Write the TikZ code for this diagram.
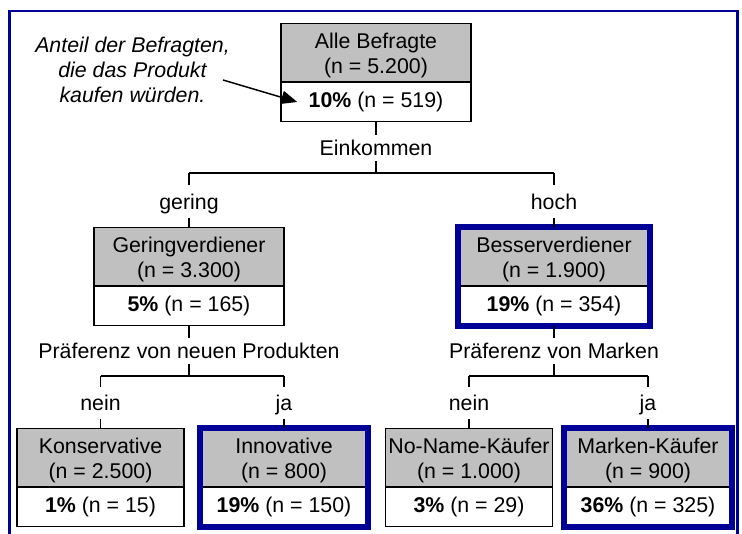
\documentclass[tikz,border=0pt]{standalone}
\usepackage{fontspec}
\setmainfont{Liberation Sans}
\usetikzlibrary{arrows.meta,calc}
\definecolor{navyblue}{RGB}{0,0,153}
\definecolor{boxgray}{RGB}{192,192,192}
\newcommand{\boxlines}[2]{\begin{tabular}{@{}c@{}}\rule{0pt}{18.7pt}#1\\#2\end{tabular}}
\begin{document}
\begin{tikzpicture}[x=0.75pt,y=-0.75pt,
  every node/.style={font=\fontsize{16}{18}\selectfont},
  gtop/.style={draw=black, line width=1.1pt, fill=boxgray, minimum width=#1, minimum height=43.1pt, inner sep=0pt, anchor=south, font=\fontsize{16}{18.9}\selectfont},
  gtop/.default=142.5pt,
  gbot/.style={draw=black, line width=1.1pt, fill=white, minimum width=#1, minimum height=28.9pt, inner sep=0pt, anchor=north, align=center},
  gbot/.default=142.5pt,
  lab/.style={inner sep=0pt, minimum height=#1, text height=11.5pt, text depth=0pt},
  conn/.style={line width=1.1pt},
  hl/.style={draw=navyblue, line width=4.2pt},
  frameline/.style={draw=navyblue, line width=1.7pt},
]
\useasboundingbox (0,0) rectangle (742,534);
\fill[white] (0,0) rectangle (742,534);
\draw[frameline] (9.5,540) -- (9.5,11) -- (737.5,11) -- (737.5,540);

% root
\node[gtop] (rootT) at (376,82) {\boxlines{Alle Befragte}{(n = 5.200)}};
\node[gbot] (rootB) at (376,82) {\textbf{10\%} (n = 519)};

% annotation
\node[font=\fontsize{16}{18.75}\selectfont\itshape, align=center, inner sep=0pt] (anno) at (132.5,69.5) {Anteil der Befragten,\\die das Produkt\\kaufen würden.};
\coordinate (arrT) at ($(anno.east)+(-7,10.5)$);
\coordinate (arrH) at ($(rootB.west)+(17,0)$);
\draw[conn, -{Triangle[length=12pt,width=10pt]}] (arrT) -- (arrH);

% level 1 split
\node[lab=19.5pt] (eink) at (376,148) {Einkommen};
\coordinate (b1M) at (376,173);
\coordinate (b1L) at (189,173);
\coordinate (b1R) at (554,173);
\draw[conn] (rootB.south) -- (eink.north);
\draw[conn] (eink.south) -- (b1M);
\draw[conn] (b1L) -- (b1R);
\node[lab=24.75pt] (gering) at (189,201.5) {gering};
\node[lab=24.75pt] (hoch) at (554,201.5) {hoch};
\draw[conn] (b1L) -- (gering.north);
\draw[conn] (b1R) -- (hoch.north);

% level 2 boxes
\node[gtop] (gerT) at (189,286) {\boxlines{Geringverdiener}{(n = 3.300)}};
\node[gbot] (gerB) at (189,286) {\textbf{5\%} (n = 165)};
\node[gtop] (besT) at (554,286) {\boxlines{Besserverdiener}{(n = 1.900)}};
\node[gbot] (besB) at (554,286) {\textbf{19\%} (n = 354)};
\draw[hl] (besT.north west) rectangle (besB.south east);
\draw[conn] (gering.south) -- (gerT.north);
\draw[conn] (hoch.south) -- (besT.north);

% level 2 splits
\node[lab=19.5pt] (prefL) at (189,351) {Präferenz von neuen Produkten};
\node[lab=19.5pt] (prefR) at (554,351) {Präferenz von Marken};
\draw[conn] (gerB.south) -- (prefL.north);
\draw[conn] (besB.south) -- (prefR.north);
\coordinate (b2lM) at (189,376);
\coordinate (b2lL) at (100.5,376);
\coordinate (b2lR) at (284,376);
\coordinate (b2rM) at (554,376);
\coordinate (b2rL) at (469,376);
\coordinate (b2rR) at (648,376);
\draw[conn] (prefL.south) -- (b2lM);
\draw[conn] (prefR.south) -- (b2rM);
\draw[conn] (b2lL) -- (b2lR);
\draw[conn] (b2rL) -- (b2rR);
\node[lab=24pt] (nein1) at (100.5,403) {nein};
\node[lab=24pt] (ja1) at (284,403) {ja};
\node[lab=24pt] (nein2) at (469,403) {nein};
\node[lab=24pt] (ja2) at (648,403) {ja};
\draw[conn] (b2lL) -- (nein1.north);
\draw[conn] (b2lR) -- (ja1.north);
\draw[conn] (b2rL) -- (nein2.north);
\draw[conn] (b2rR) -- (ja2.north);

% level 3 boxes
\node[gtop=125.25pt] (konT) at (100.5,487) {\boxlines{Konservative}{(n = 2.500)}};
\node[gbot=125.25pt] (konB) at (100.5,487) {\textbf{1\%} (n = 15)};
\node[gtop=125.25pt] (innT) at (284,487) {\boxlines{Innovative}{(n = 800)}};
\node[gbot=125.25pt] (innB) at (284,487) {\textbf{19\%} (n = 150)};
\node[gtop=125.25pt] (noT) at (469,487) {\boxlines{No-Name-Käufer}{(n = 1.000)}};
\node[gbot=125.25pt] (noB) at (469,487) {\textbf{3\%} (n = 29)};
\node[gtop=125.25pt] (marT) at (648,487) {\boxlines{Marken-Käufer}{(n = 900)}};
\node[gbot=125.25pt] (marB) at (648,487) {\textbf{36\%} (n = 325)};
\draw[hl] (innT.north west) rectangle (innB.south east);
\draw[hl] (marT.north west) rectangle (marB.south east);
\draw[conn] (nein1.south) -- (konT.north);
\draw[conn] (ja1.south) -- (innT.north);
\draw[conn] (nein2.south) -- (noT.north);
\draw[conn] (ja2.south) -- (marT.north);
\end{tikzpicture}
\end{document}
